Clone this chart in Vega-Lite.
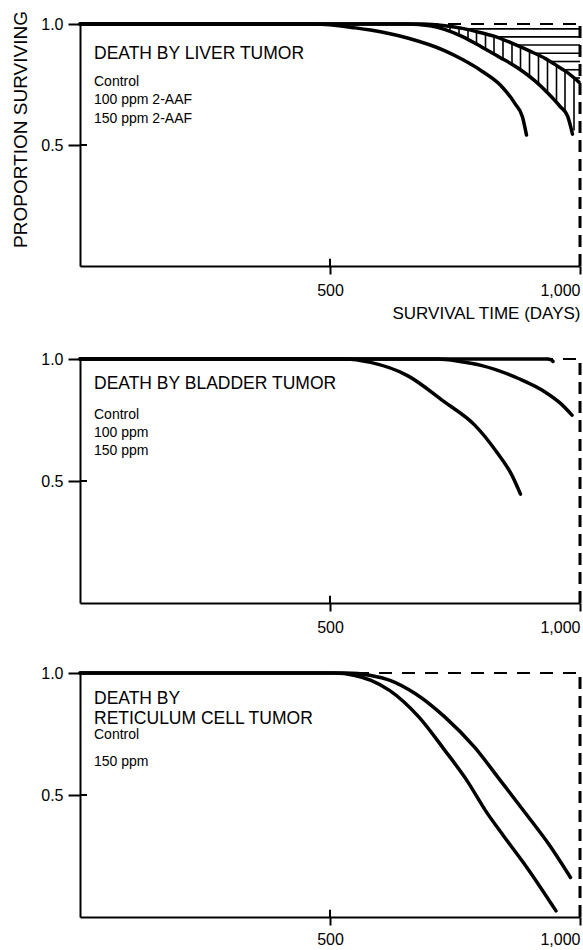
{
  "$schema": "https://vega.github.io/schema/vega-lite/v6.json",
  "background": "white",
  "padding": {"left": 11, "top": 10, "right": 0, "bottom": 0},
  "spacing": 30,
  "config": {
    "view": {"stroke": null},
    "font": "Liberation Sans",
    "axis": {"domainColor": "black", "domainWidth": 2, "tickColor": "black", "tickWidth": 2, "labelColor": "black", "labelFont": "Liberation Sans", "labelFontSize": 16, "titleFont": "Liberation Sans", "titleFontWeight": "normal", "titleColor": "black", "grid": false},
    "text": {"font": "Liberation Sans", "fill": "black"}
  },
  "datasets": {
    "curves": [
      {"panel": "liver", "group": "Control", "days": 0, "p": 1},
      {"panel": "liver", "group": "Control", "days": 685, "p": 1},
      {"panel": "liver", "group": "Control", "days": 730, "p": 0.993},
      {"panel": "liver", "group": "Control", "days": 765, "p": 0.982},
      {"panel": "liver", "group": "Control", "days": 800, "p": 0.965},
      {"panel": "liver", "group": "Control", "days": 835, "p": 0.945},
      {"panel": "liver", "group": "Control", "days": 865, "p": 0.92},
      {"panel": "liver", "group": "Control", "days": 900, "p": 0.888},
      {"panel": "liver", "group": "Control", "days": 931, "p": 0.857},
      {"panel": "liver", "group": "Control", "days": 952, "p": 0.83},
      {"panel": "liver", "group": "Control", "days": 971, "p": 0.805},
      {"panel": "liver", "group": "Control", "days": 998, "p": 0.76},
      {"panel": "liver", "group": "100 ppm", "days": 0, "p": 1},
      {"panel": "liver", "group": "100 ppm", "days": 655, "p": 1},
      {"panel": "liver", "group": "100 ppm", "days": 700, "p": 0.993},
      {"panel": "liver", "group": "100 ppm", "days": 729, "p": 0.978},
      {"panel": "liver", "group": "100 ppm", "days": 765, "p": 0.948},
      {"panel": "liver", "group": "100 ppm", "days": 804, "p": 0.904},
      {"panel": "liver", "group": "100 ppm", "days": 840, "p": 0.862},
      {"panel": "liver", "group": "100 ppm", "days": 878, "p": 0.815},
      {"panel": "liver", "group": "100 ppm", "days": 910, "p": 0.765},
      {"panel": "liver", "group": "100 ppm", "days": 937, "p": 0.712},
      {"panel": "liver", "group": "100 ppm", "days": 960, "p": 0.66},
      {"panel": "liver", "group": "100 ppm", "days": 975, "p": 0.62},
      {"panel": "liver", "group": "100 ppm", "days": 985, "p": 0.545},
      {"panel": "liver", "group": "150 ppm", "days": 0, "p": 1},
      {"panel": "liver", "group": "150 ppm", "days": 470, "p": 1},
      {"panel": "liver", "group": "150 ppm", "days": 551, "p": 0.984},
      {"panel": "liver", "group": "150 ppm", "days": 581, "p": 0.975},
      {"panel": "liver", "group": "150 ppm", "days": 655, "p": 0.942},
      {"panel": "liver", "group": "150 ppm", "days": 729, "p": 0.89},
      {"panel": "liver", "group": "150 ppm", "days": 766, "p": 0.852},
      {"panel": "liver", "group": "150 ppm", "days": 804, "p": 0.805},
      {"panel": "liver", "group": "150 ppm", "days": 841, "p": 0.747},
      {"panel": "liver", "group": "150 ppm", "days": 870, "p": 0.671},
      {"panel": "liver", "group": "150 ppm", "days": 885, "p": 0.616},
      {"panel": "liver", "group": "150 ppm", "days": 893, "p": 0.541},
      {"panel": "bladder", "group": "Control", "days": 0, "p": 1},
      {"panel": "bladder", "group": "Control", "days": 935, "p": 1},
      {"panel": "bladder", "group": "Control", "days": 942, "p": 0.997},
      {"panel": "bladder", "group": "Control", "days": 946, "p": 0.99},
      {"panel": "bladder", "group": "100 ppm", "days": 0, "p": 1},
      {"panel": "bladder", "group": "100 ppm", "days": 715, "p": 1},
      {"panel": "bladder", "group": "100 ppm", "days": 760, "p": 0.99},
      {"panel": "bladder", "group": "100 ppm", "days": 804, "p": 0.973},
      {"panel": "bladder", "group": "100 ppm", "days": 878, "p": 0.919},
      {"panel": "bladder", "group": "100 ppm", "days": 930, "p": 0.865},
      {"panel": "bladder", "group": "100 ppm", "days": 960, "p": 0.82},
      {"panel": "bladder", "group": "100 ppm", "days": 984, "p": 0.77},
      {"panel": "bladder", "group": "150 ppm", "days": 0, "p": 1},
      {"panel": "bladder", "group": "150 ppm", "days": 529, "p": 1},
      {"panel": "bladder", "group": "150 ppm", "days": 581, "p": 0.986},
      {"panel": "bladder", "group": "150 ppm", "days": 655, "p": 0.932},
      {"panel": "bladder", "group": "150 ppm", "days": 729, "p": 0.824},
      {"panel": "bladder", "group": "150 ppm", "days": 789, "p": 0.73},
      {"panel": "bladder", "group": "150 ppm", "days": 833, "p": 0.62},
      {"panel": "bladder", "group": "150 ppm", "days": 863, "p": 0.527},
      {"panel": "bladder", "group": "150 ppm", "days": 881, "p": 0.446},
      {"panel": "reticulum", "group": "Control", "days": 0, "p": 1},
      {"panel": "reticulum", "group": "Control", "days": 530, "p": 1},
      {"panel": "reticulum", "group": "Control", "days": 582, "p": 0.99},
      {"panel": "reticulum", "group": "Control", "days": 620, "p": 0.97},
      {"panel": "reticulum", "group": "Control", "days": 671, "p": 0.915},
      {"panel": "reticulum", "group": "Control", "days": 730, "p": 0.819},
      {"panel": "reticulum", "group": "Control", "days": 789, "p": 0.696},
      {"panel": "reticulum", "group": "Control", "days": 841, "p": 0.559},
      {"panel": "reticulum", "group": "Control", "days": 893, "p": 0.42},
      {"panel": "reticulum", "group": "Control", "days": 937, "p": 0.3},
      {"panel": "reticulum", "group": "Control", "days": 981, "p": 0.162},
      {"panel": "reticulum", "group": "150 ppm", "days": 0, "p": 1},
      {"panel": "reticulum", "group": "150 ppm", "days": 508, "p": 1},
      {"panel": "reticulum", "group": "150 ppm", "days": 550, "p": 0.99},
      {"panel": "reticulum", "group": "150 ppm", "days": 582, "p": 0.97},
      {"panel": "reticulum", "group": "150 ppm", "days": 619, "p": 0.929},
      {"panel": "reticulum", "group": "150 ppm", "days": 678, "p": 0.819},
      {"panel": "reticulum", "group": "150 ppm", "days": 730, "p": 0.682},
      {"panel": "reticulum", "group": "150 ppm", "days": 774, "p": 0.559},
      {"panel": "reticulum", "group": "150 ppm", "days": 811, "p": 0.436},
      {"panel": "reticulum", "group": "150 ppm", "days": 848, "p": 0.33},
      {"panel": "reticulum", "group": "150 ppm", "days": 893, "p": 0.205},
      {"panel": "reticulum", "group": "150 ppm", "days": 952, "p": 0.025}
    ],
    "vhatch": [
      {"days": 706, "top": 0.997, "bot": 0.99},
      {"days": 723, "top": 0.994, "bot": 0.981},
      {"days": 740, "top": 0.99, "bot": 0.969},
      {"days": 758, "top": 0.984, "bot": 0.954},
      {"days": 776, "top": 0.977, "bot": 0.936},
      {"days": 793, "top": 0.968, "bot": 0.916},
      {"days": 811, "top": 0.959, "bot": 0.896},
      {"days": 828, "top": 0.949, "bot": 0.876},
      {"days": 846, "top": 0.936, "bot": 0.855},
      {"days": 864, "top": 0.921, "bot": 0.832},
      {"days": 881, "top": 0.905, "bot": 0.81},
      {"days": 899, "top": 0.889, "bot": 0.782},
      {"days": 917, "top": 0.871, "bot": 0.751},
      {"days": 935, "top": 0.852, "bot": 0.722},
      {"days": 953, "top": 0.829, "bot": 0.676},
      {"days": 970, "top": 0.806, "bot": 0.633},
      {"days": 988, "top": 0.777, "bot": 0.56}
    ],
    "hhatch": [
      {"p": 0.98, "start": 769, "end": 1000},
      {"p": 0.947, "start": 831, "end": 1000},
      {"p": 0.913, "start": 873, "end": 1000},
      {"p": 0.879, "start": 909, "end": 1000},
      {"p": 0.845, "start": 940, "end": 1000},
      {"p": 0.811, "start": 966, "end": 1000},
      {"p": 0.777, "start": 988, "end": 1000}
    ],
    "xticks": [{"days": 500}, {"days": 1000}]
  },
  "vconcat": [
    {
      "width": 500, "height": 242,
      "layer": [
        {"data": {"name": "curves"}, "transform": [{"filter": "datum.panel === 'liver'"}],
         "mark": {"type": "line", "interpolate": "monotone", "strokeWidth": 3.5, "color": "black", "strokeCap": "round"},
         "encoding": {
           "x": {"field": "days", "type": "quantitative", "scale": {"domain": [0, 1000], "nice": false, "zero": false},
                 "axis": {"values": [500, 1000], "format": ",d", "labelFlush": true, "tickSize": 8, "labelPadding": 8, "title": "SURVIVAL TIME (DAYS)", "titleAnchor": "end", "titleFontSize": 17, "titlePadding": 7}},
           "y": {"field": "p", "type": "quantitative", "scale": {"domain": [0, 1], "nice": false},
                 "axis": {"values": [0.5, 1], "format": ".1f", "tickSize": 12, "labelPadding": 5, "title": "PROPORTION SURVIVING", "titleFontSize": 19, "titlePadding": 10, "titleY": 105}},
           "detail": {"field": "group"}
         }},
        {"data": {"values": [{}]}, "mark": {"type": "rule", "strokeDash": [13, 10], "strokeWidth": 2, "color": "black"},
         "encoding": {"x": {"datum": 0, "type": "quantitative"}, "x2": {"datum": 1000}, "y": {"datum": 1, "type": "quantitative"}}},
        {"data": {"values": [{}]}, "mark": {"type": "rule", "strokeDash": [12, 7], "strokeWidth": 3, "color": "black"},
         "encoding": {"x": {"datum": 1000, "type": "quantitative"}, "y": {"datum": 0, "type": "quantitative"}, "y2": {"datum": 1}}},
        {"data": {"name": "xticks"}, "mark": {"type": "rule", "strokeWidth": 2, "color": "black"},
         "encoding": {"x": {"field": "days", "type": "quantitative"}, "y": {"datum": 0, "type": "quantitative"}, "y2": {"datum": 0.03}}},
        {"data": {"values": [{}]}, "mark": {"type": "rule", "strokeWidth": 2, "color": "black"},
         "encoding": {"x": {"datum": 0, "type": "quantitative"}, "x2": {"datum": 14}, "y": {"datum": 0.5, "type": "quantitative"}}},
        {"data": {"name": "vhatch"}, "mark": {"type": "rule", "strokeWidth": 1.6, "color": "black"},
         "encoding": {"x": {"field": "days", "type": "quantitative"}, "y": {"field": "top", "type": "quantitative"}, "y2": {"field": "bot"}}},
        {"data": {"name": "hhatch"}, "mark": {"type": "rule", "strokeWidth": 1.6, "color": "black"},
         "encoding": {"x": {"field": "start", "type": "quantitative"}, "x2": {"field": "end"}, "y": {"field": "p", "type": "quantitative"}}},
        {"data": {"values": [{}]}, "mark": {"type": "text", "align": "left", "baseline": "middle", "fontSize": 17.5},
         "encoding": {"x": {"datum": 28, "type": "quantitative"}, "y": {"datum": 0.877, "type": "quantitative"}, "text": {"value": "DEATH BY LIVER TUMOR"}}},
        {"data": {"values": [{}]}, "mark": {"type": "text", "align": "left", "baseline": "top", "fontSize": 14, "lineHeight": 18.5},
         "encoding": {"x": {"datum": 28, "type": "quantitative"}, "y": {"datum": 0.79, "type": "quantitative"}, "text": {"value": ["Control", "100 ppm 2-AAF", "150 ppm 2-AAF"]}}}
      ]
    },
    {
      "width": 500, "height": 244,
      "layer": [
        {"data": {"name": "curves"}, "transform": [{"filter": "datum.panel === 'bladder'"}],
         "mark": {"type": "line", "interpolate": "monotone", "strokeWidth": 3.5, "color": "black", "strokeCap": "round"},
         "encoding": {
           "x": {"field": "days", "type": "quantitative", "scale": {"domain": [0, 1000], "nice": false, "zero": false},
                 "axis": {"values": [500, 1000], "format": ",d", "labelFlush": true, "tickSize": 8, "labelPadding": 8, "title": null}},
           "y": {"field": "p", "type": "quantitative", "scale": {"domain": [0, 1], "nice": false},
                 "axis": {"values": [0.5, 1], "format": ".1f", "tickSize": 12, "labelPadding": 5, "title": null}},
           "detail": {"field": "group"}
         }},
        {"data": {"values": [{}]}, "mark": {"type": "rule", "strokeDash": [13, 10], "strokeWidth": 2, "color": "black"},
         "encoding": {"x": {"datum": 0, "type": "quantitative"}, "x2": {"datum": 1000}, "y": {"datum": 1, "type": "quantitative"}}},
        {"data": {"values": [{}]}, "mark": {"type": "rule", "strokeDash": [12, 7], "strokeWidth": 3, "color": "black"},
         "encoding": {"x": {"datum": 1000, "type": "quantitative"}, "y": {"datum": 0, "type": "quantitative"}, "y2": {"datum": 1}}},
        {"data": {"name": "xticks"}, "mark": {"type": "rule", "strokeWidth": 2, "color": "black"},
         "encoding": {"x": {"field": "days", "type": "quantitative"}, "y": {"datum": 0, "type": "quantitative"}, "y2": {"datum": 0.03}}},
        {"data": {"values": [{}]}, "mark": {"type": "rule", "strokeWidth": 2, "color": "black"},
         "encoding": {"x": {"datum": 0, "type": "quantitative"}, "x2": {"datum": 14}, "y": {"datum": 0.5, "type": "quantitative"}}},
        {"data": {"values": [{}]}, "mark": {"type": "text", "align": "left", "baseline": "middle", "fontSize": 17.5},
         "encoding": {"x": {"datum": 28, "type": "quantitative"}, "y": {"datum": 0.898, "type": "quantitative"}, "text": {"value": "DEATH BY BLADDER TUMOR"}}},
        {"data": {"values": [{}]}, "mark": {"type": "text", "align": "left", "baseline": "top", "fontSize": 14, "lineHeight": 18},
         "encoding": {"x": {"datum": 28, "type": "quantitative"}, "y": {"datum": 0.799, "type": "quantitative"}, "text": {"value": ["Control", "100 ppm", "150 ppm"]}}}
      ]
    },
    {
      "width": 500, "height": 244,
      "layer": [
        {"data": {"name": "curves"}, "transform": [{"filter": "datum.panel === 'reticulum'"}],
         "mark": {"type": "line", "interpolate": "monotone", "strokeWidth": 3.5, "color": "black", "strokeCap": "round"},
         "encoding": {
           "x": {"field": "days", "type": "quantitative", "scale": {"domain": [0, 1000], "nice": false, "zero": false},
                 "axis": {"values": [500, 1000], "format": ",d", "labelFlush": true, "tickSize": 8, "labelPadding": 6, "title": null}},
           "y": {"field": "p", "type": "quantitative", "scale": {"domain": [0, 1], "nice": false},
                 "axis": {"values": [0.5, 1], "format": ".1f", "tickSize": 12, "labelPadding": 5, "title": null}},
           "detail": {"field": "group"}
         }},
        {"data": {"values": [{}]}, "mark": {"type": "rule", "strokeDash": [13, 10], "strokeWidth": 2, "color": "black"},
         "encoding": {"x": {"datum": 0, "type": "quantitative"}, "x2": {"datum": 1000}, "y": {"datum": 1, "type": "quantitative"}}},
        {"data": {"values": [{}]}, "mark": {"type": "rule", "strokeDash": [12, 7], "strokeWidth": 3, "color": "black"},
         "encoding": {"x": {"datum": 1000, "type": "quantitative"}, "y": {"datum": 0, "type": "quantitative"}, "y2": {"datum": 1}}},
        {"data": {"name": "xticks"}, "mark": {"type": "rule", "strokeWidth": 2, "color": "black"},
         "encoding": {"x": {"field": "days", "type": "quantitative"}, "y": {"datum": 0, "type": "quantitative"}, "y2": {"datum": 0.03}}},
        {"data": {"values": [{}]}, "mark": {"type": "rule", "strokeWidth": 2, "color": "black"},
         "encoding": {"x": {"datum": 0, "type": "quantitative"}, "x2": {"datum": 14}, "y": {"datum": 0.5, "type": "quantitative"}}},
        {"data": {"values": [{}]}, "mark": {"type": "text", "align": "left", "baseline": "top", "fontSize": 17.5, "lineHeight": 19.5},
         "encoding": {"x": {"datum": 28, "type": "quantitative"}, "y": {"datum": 0.93, "type": "quantitative"}, "text": {"value": ["DEATH BY", "RETICULUM CELL TUMOR"]}}},
        {"data": {"values": [{}]}, "mark": {"type": "text", "align": "left", "baseline": "top", "fontSize": 14, "lineHeight": 27},
         "encoding": {"x": {"datum": 28, "type": "quantitative"}, "y": {"datum": 0.775, "type": "quantitative"}, "text": {"value": ["Control", "150 ppm"]}}}
      ]
    }
  ]
}
